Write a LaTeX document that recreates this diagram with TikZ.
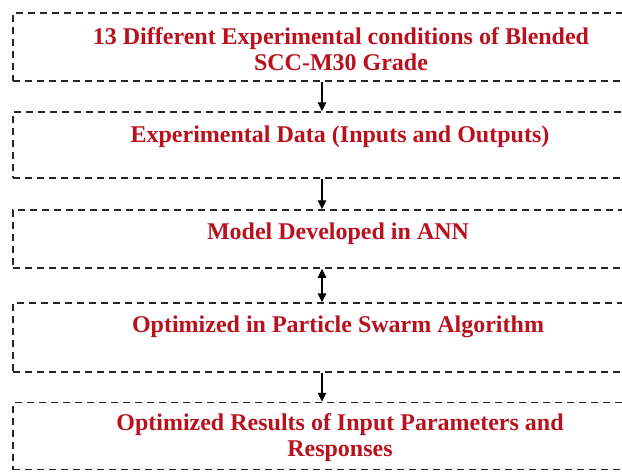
\documentclass[tikz,border=0pt]{standalone}
\usepackage{fontspec}
\setmainfont{Liberation Serif}
\usetikzlibrary{arrows.meta}
\definecolor{txtred}{RGB}{185,18,30}
\tikzset{
  box/.style={draw=black!85, line width=1.5pt, dash pattern=on 7pt off 5pt, rectangle, inner sep=0pt},
  lbl/.style={text=txtred, font=\bfseries\fontsize{24}{26}\selectfont, align=center, inner sep=0pt},
  arr/.style={draw=black, line width=1.2pt, -{Triangle[length=9pt,width=8.5pt]}},
  darr/.style={draw=black, line width=1.2pt, {Triangle[length=9pt,width=8.5pt]}-{Triangle[length=9pt,width=8.5pt]}}
}
\begin{document}
\begin{tikzpicture}[x=1pt,y=-1pt]
\useasboundingbox (0,0) rectangle (622,472);
\clip (0,0) rectangle (622,472);
\fill[white] (0,0) rectangle (622,472);
\node[box, minimum width=655pt, minimum height=68pt] (b1) at (340.5,47) {};
\node[box, minimum width=655pt, minimum height=66pt] (b2) at (340.5,145) {};
\node[box, minimum width=655pt, minimum height=58pt] (b3) at (340.5,239) {};
\node[box, minimum width=655pt, minimum height=69pt] (b4) at (340.5,337.5) {};
\node[box, minimum width=655pt, minimum height=67pt] (b5) at (340.5,436) {};
\node[lbl] (t1) at (341,49) {13 Different Experimental conditions of Blended\\SCC-M30 Grade};
\node[lbl] (t2) at (340,137) {Experimental Data (Inputs and Outputs)};
\node[lbl] (t3) at (338,234) {Model Developed in ANN};
\node[lbl] (t4) at (338,327) {Optimized in Particle Swarm Algorithm};
\node[lbl] (t5) at (340,438) {Optimized Results of Input Parameters and\\Responses};
\coordinate (ax) at (322,0);
\draw[arr] (b1.south -| ax) -- (b2.north -| ax);
\draw[arr] (b2.south -| ax) -- (b3.north -| ax);
\draw[darr] (b3.south -| ax) -- (b4.north -| ax);
\draw[arr] (b4.south -| ax) -- (b5.north -| ax);
\end{tikzpicture}
\end{document}
